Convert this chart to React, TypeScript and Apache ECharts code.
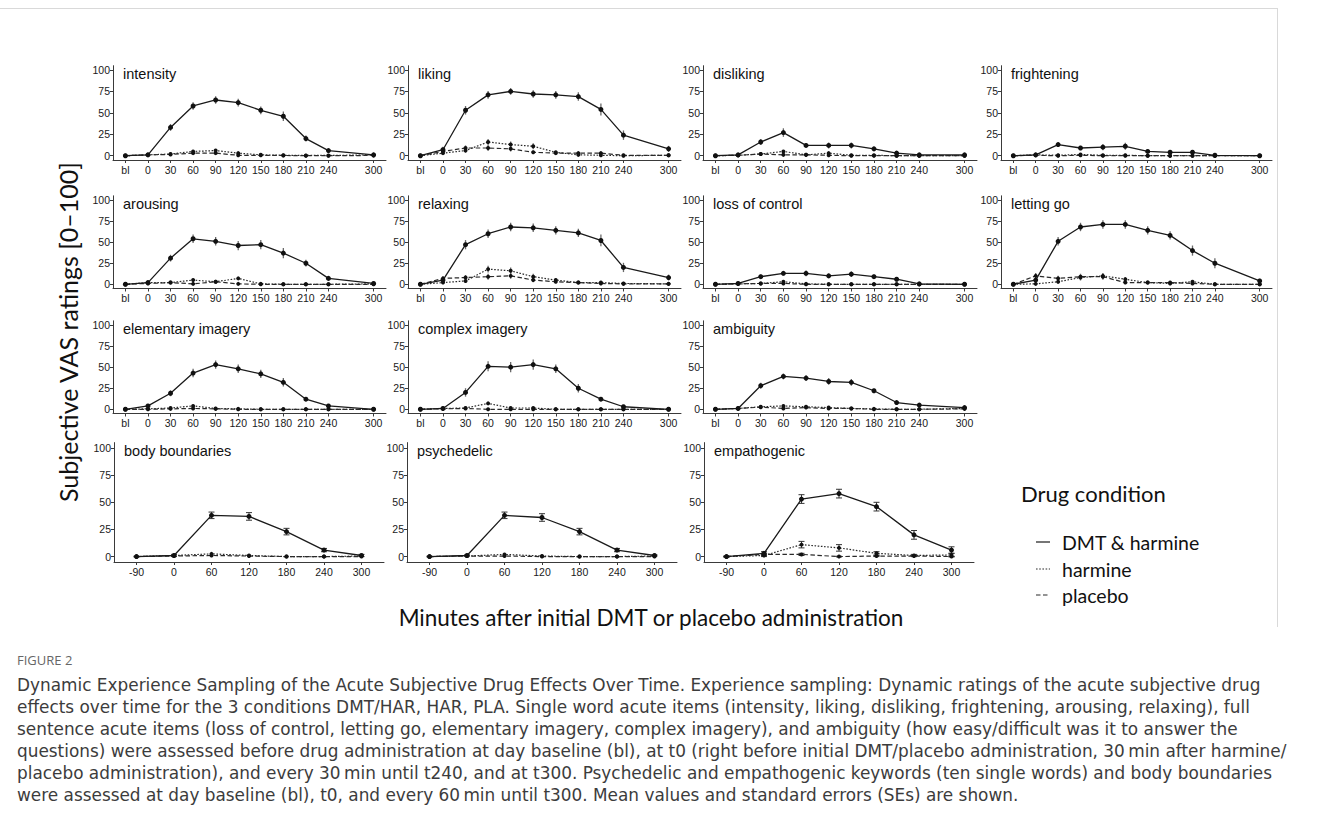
import React, { useEffect, useRef } from 'react';
import * as echarts from 'echarts';

// ---------- axis categories / tick labels ----------
const DENSE_TIMES = ['bl', '0', '30', '60', '90', '120', '150', '180', '210', '240', '300'];
const DENSE_POS = [-30, 0, 30, 60, 90, 120, 150, 180, 210, 240, 300];
const SPARSE_TIMES = ['-90', '0', '60', '120', '180', '240', '300'];
const SPARSE_POS = [-60, 0, 60, 120, 180, 240, 300];
const Y_TICKS = [0, 25, 50, 75, 100];

// ---------- data (mean, SE) ----------
const intensity = {
  dmt: [0, 1, 33, 58, 65, 62, 53, 46, 20, 6, 1],
  dmtSe: [0.4, 1.2, 4, 4.5, 4.5, 4.5, 4.5, 5.5, 3.5, 2, 1.2],
  har: [0, 1, 2, 5, 6, 3, 1, 0.5, 0.3, 0.3, 1],
  pla: [0, 1, 1.5, 3, 3, 0.5, 0.5, 0.3, 0, 0, 0.3],
};
const liking = {
  dmt: [0, 7, 53, 71, 75, 72, 71, 69, 54, 24, 8],
  dmtSe: [0.5, 3.5, 5, 4.5, 4, 4.5, 4.5, 5, 7, 5.5, 3.5],
  har: [0, 3, 6, 16, 13, 11, 4, 1, 0.5, 0, 0.5],
  harSe: [0.3, 1.5, 2.5, 3.5, 3.5, 3.5, 1.5, 1, 0.5, 0.3, 0.3],
  pla: [0, 5, 9, 9, 8, 4, 3, 3, 3, 0.5, 0.5],
  plaSe: [0.3, 2, 3, 3.5, 3, 2, 1.5, 1.5, 1.5, 0.3, 0.3],
};
const disliking = {
  dmt: [0, 1, 16, 27, 12, 12, 12, 8, 3, 1, 1],
  dmtSe: [0.4, 1, 3.5, 5, 2.5, 3.5, 3.5, 2.5, 1.5, 1, 0.6],
  har: [0, 0.5, 2, 5, 1, 3, 0.5, 0.5, 0, 0, 0],
  pla: [0, 0.5, 2, 1, 1, 0.5, 0, 0, 0, 0, 0],
};
const frightening = {
  dmt: [0, 1, 13, 9, 10, 11, 5, 4, 4, 0.5, 0],
  dmtSe: [0.3, 1, 2.5, 2.5, 3.5, 4, 1.5, 1.5, 2, 0.6, 0.2],
  har: [0, 1, 0.5, 1.5, 0.5, 0.5, 0, 0, 0, 0, 0],
  pla: [0, 0.5, 0, 0.5, 0, 0, 0, 0, 0, 0, 0],
};
const arousing = {
  dmt: [0, 2, 31, 54, 51, 46, 47, 37, 25, 7, 1],
  dmtSe: [0.5, 1.2, 4, 5, 5, 5.5, 5.5, 6, 4, 2, 1.2],
  har: [0, 2, 2, 5, 3, 7, 0.5, 0, 0, 0, 0.5],
  pla: [0, 1, 2, 0.5, 3, 0.5, 0, 0, 0, 0, 0],
};
const relaxing = {
  dmt: [0, 5, 47, 60, 68, 67, 64, 61, 52, 20, 8],
  dmtSe: [0.5, 2.5, 5.5, 5, 5, 5, 5, 5, 7, 5.5, 3.5],
  har: [0, 2, 4, 18, 16, 9, 5, 2, 2, 1, 0.5],
  harSe: [0.3, 1, 2, 4, 4, 3.5, 2, 1, 1, 0.5, 0.3],
  pla: [0, 7, 8, 9, 10, 5, 3, 2, 1, 0.5, 0.5],
  plaSe: [0.3, 2.5, 3, 3.5, 3.5, 2.5, 1.5, 1, 0.5, 0.3, 0.3],
};
const lossOfControl = {
  dmt: [0, 1, 9, 13, 13, 10, 12, 9, 6, 0.5, 0],
  dmtSe: [0.3, 0.6, 2.5, 2.5, 3.5, 2.5, 3.5, 2.5, 2.5, 0.6, 0.2],
  har: [0, 0.5, 1, 3, 0.5, 0, 0, 0, 0, 0, 0],
  pla: [0, 0.5, 1, 1, 0, 0, 0, 0, 0, 0, 0],
};
const lettingGo = {
  dmt: [0, 5, 51, 68, 71, 71, 64, 58, 40, 25, 4],
  dmtSe: [0.5, 2.5, 5, 5, 5, 5, 5, 5, 6, 6, 2.5],
  har: [0, 0.5, 3, 8, 10, 6, 2, 1, 3, 0, 0],
  harSe: [0.3, 0.3, 2, 3.5, 3.5, 2.5, 1, 1, 2, 0.3, 0.3],
  pla: [0, 10, 7, 9, 9, 2, 2, 2, 1, 0, 0],
  plaSe: [0.3, 3.5, 3, 3.5, 3.5, 1, 1, 1, 0.5, 0.3, 0.3],
};
const elementaryImagery = {
  dmt: [0, 4, 19, 43, 53, 48, 42, 32, 12, 4, 0],
  dmtSe: [0.4, 2, 3.5, 5, 5, 5, 5, 5, 2.5, 1.2, 0.4],
  har: [0, 0.5, 1.5, 4, 1, 0.5, 0, 0, 0, 0, 0],
  pla: [0, 0, 0.5, 1, 0.5, 0, 0, 0, 0, 0, 0],
};
const complexImagery = {
  dmt: [0, 1, 20, 51, 50, 53, 48, 25, 12, 3, 0],
  dmtSe: [0.4, 1.2, 5, 6, 6, 6, 5, 5, 2.5, 1.2, 0.4],
  har: [0, 1, 1.5, 7, 1.5, 1.5, 0, 0, 0, 0, 0],
  pla: [0, 0.5, 1, 0, 0, 0, 0, 0, 0, 0, 0],
};
const ambiguity = {
  dmt: [0, 1, 28, 39, 37, 33, 32, 22, 8, 5, 2],
  dmtSe: [0.5, 1.2, 3.5, 3.5, 3.5, 4, 4, 2.5, 1.2, 1.2, 1.2],
  har: [0, 1, 3, 4, 3, 2, 1, 0.5, 0, 0, 1],
  pla: [0, 1, 2.5, 1, 2, 1, 1, 0, 0, 0, 0.5],
};
const bodyBoundaries = {
  dmt: [0, 1, 38, 37, 23, 6, 1],
  dmtSe: [0.3, 1, 3, 3.5, 3, 1.5, 1],
  har: [0, 1, 2.5, 1, 0, 0, 0.5],
  pla: [0, 0.5, 1, 0.5, 0, 0, 0],
};
const psychedelic = {
  dmt: [0, 1, 38, 36, 23, 6, 1],
  dmtSe: [0.3, 0.5, 3, 3.5, 3, 1.5, 0.5],
  har: [0, 0.5, 2, 0.5, 0, 0, 0.5],
  pla: [0, 0.5, 0.5, 0, 0, 0, 0],
};
const empathogenic = {
  dmt: [0, 3, 53, 58, 46, 20, 6],
  dmtSe: [0.3, 1.5, 4, 4, 4, 4, 3],
  har: [0, 1, 11, 8, 3, 1, 1.5],
  harSe: [0.3, 1, 3, 3, 1.5, 1, 1.5],
  pla: [0, 2, 2, 0, 0.5, 0.5, 0],
  plaSe: [0.3, 1, 1, 0.3, 0.5, 0.5, 0.3],
};

const PANELS = [
  { title: 'intensity', d: intensity, row: 0, col: 0 },
  { title: 'liking', d: liking, row: 0, col: 1 },
  { title: 'disliking', d: disliking, row: 0, col: 2 },
  { title: 'frightening', d: frightening, row: 0, col: 3 },
  { title: 'arousing', d: arousing, row: 1, col: 0 },
  { title: 'relaxing', d: relaxing, row: 1, col: 1 },
  { title: 'loss of control', d: lossOfControl, row: 1, col: 2 },
  { title: 'letting go', d: lettingGo, row: 1, col: 3 },
  { title: 'elementary imagery', d: elementaryImagery, row: 2, col: 0 },
  { title: 'complex imagery', d: complexImagery, row: 2, col: 1 },
  { title: 'ambiguity', d: ambiguity, row: 2, col: 2 },
  { title: 'body boundaries', d: bodyBoundaries, row: 3, col: 0 },
  { title: 'psychedelic', d: psychedelic, row: 3, col: 1 },
  { title: 'empathogenic', d: empathogenic, row: 3, col: 2 },
];

const CAPTION = [
  'Dynamic Experience Sampling of the Acute Subjective Drug Effects Over Time. Experience sampling: Dynamic ratings of the acute subjective drug',
  'effects over time for the 3 conditions DMT/HAR, HAR, PLA. Single word acute items (intensity, liking, disliking, frightening, arousing, relaxing), full',
  'sentence acute items (loss of control, letting go, elementary imagery, complex imagery), and ambiguity (how easy/difficult was it to answer the',
  'questions) were assessed before drug administration at day baseline (bl), at t0 (right before initial DMT/placebo administration, 30\u2009min after harmine/',
  'placebo administration), and every 30\u2009min until t240, and at t300. Psychedelic and empathogenic keywords (ten single words) and body boundaries',
  'were assessed at day baseline (bl), t0, and every 60\u2009min until t300. Mean values and standard errors (SEs) are shown.',
];

// ---------- layout ----------
const ROW_TOP = [65.7, 195.8, 320.8, 442.6];
const ROW_H = [94.3, 92.7, 92.7, 119.4];
const COL_LEFT = [113, 408, 703, 1001];
const COL_W = [273, 273, 274, 271];
const COL_LEFT_B = [114, 407, 704];
const COL_W_B = 270;

const TICK_FONT = "'Liberation Sans', Arial, sans-serif";
const TITLE_FONT = "Lato, 'Open Sans', sans-serif";
const CAPTION_FONT = "'DejaVu Sans', 'Open Sans', sans-serif";
const AXIS_COLOR = '#3a3a3a';

const LINE_STYLES = {
  dmt: { color: '#1a1a1a', width: 1.3, type: 'solid' as any },
  har: { color: '#2a2a2a', width: 1.2, type: [1.6, 1.6] as any },
  pla: { color: '#2a2a2a', width: 1.2, type: [4.5, 2.5] as any },
};

function errorSeries(idx: number, pos: number[], mean: number[], se: number[], caps: boolean, color: string, lw: number) {
  return {
    type: 'custom',
    xAxisIndex: idx,
    yAxisIndex: idx,
    z: 1,
    silent: true,
    encode: { x: 0, y: 1 },
    data: mean.map((v, k) => [pos[k], v, se[k]]),
    renderItem: (params: any, api: any) => {
      const x = api.value(0);
      const y = api.value(1);
      const s = api.value(2);
      const a = api.coord([x, y + s]);
      const b = api.coord([x, y - s]);
      const children: any[] = [
        { type: 'line', shape: { x1: a[0], y1: a[1], x2: b[0], y2: b[1] }, style: { stroke: color, lineWidth: lw } },
      ];
      if (caps) {
        children.push({ type: 'line', shape: { x1: a[0] - 3, y1: a[1], x2: a[0] + 3, y2: a[1] }, style: { stroke: color, lineWidth: 1 } });
        children.push({ type: 'line', shape: { x1: b[0] - 3, y1: b[1], x2: b[0] + 3, y2: b[1] }, style: { stroke: color, lineWidth: 1 } });
      }
      return { type: 'group', children };
    },
  };
}

function buildOption() {
  const grid: any[] = [];
  const xAxis: any[] = [];
  const yAxis: any[] = [];
  const series: any[] = [];
  const graphic: any[] = [];

  PANELS.forEach((p, i) => {
    const sparse = p.row === 3;
    const left = sparse ? COL_LEFT_B[p.col] : COL_LEFT[p.col];
    const width = sparse ? COL_W_B : COL_W[p.col];
    const top = ROW_TOP[p.row];
    const height = ROW_H[p.row];
    const pos = sparse ? SPARSE_POS : DENSE_POS;
    const labels = sparse ? SPARSE_TIMES : DENSE_TIMES;

    grid.push({ left, top, width, height, containLabel: false, outerBoundsMode: 'none' });
    xAxis.push({
      type: 'value',
      gridIndex: i,
      min: sparse ? -96 : -46.5,
      max: sparse ? 336 : 316.5,
      splitLine: { show: false },
      axisLine: { show: true, onZero: false, lineStyle: { color: AXIS_COLOR, width: 1 } },
      axisTick: { show: true, length: 3, customValues: pos, lineStyle: { color: AXIS_COLOR } },
      axisLabel: {
        customValues: pos,
        formatter: (v: number) => {
          const k = pos.indexOf(v);
          return k >= 0 ? labels[k] : '';
        },
        fontSize: 10.5,
        color: '#1a1a1a',
        margin: 4,
        fontFamily: TICK_FONT,
      },
    });
    yAxis.push({
      type: 'value',
      gridIndex: i,
      min: -5,
      max: 105,
      splitLine: { show: false },
      axisLine: { show: true, onZero: false, lineStyle: { color: AXIS_COLOR, width: 1 } },
      axisTick: { show: true, length: 3, customValues: Y_TICKS, lineStyle: { color: AXIS_COLOR } },
      axisLabel: {
        customValues: Y_TICKS,
        fontSize: 10.5,
        color: '#1a1a1a',
        margin: 3,
        fontFamily: TICK_FONT,
      },
    });

    const d: any = p.d;
    const caps = sparse;
    const ebColor = sparse ? '#333' : '#6a6a6a';
    const ebLw = sparse ? 1 : 1.3;
    series.push(errorSeries(i, pos, d.dmt, d.dmtSe, caps, ebColor, ebLw));
    if (d.harSe) series.push(errorSeries(i, pos, d.har, d.harSe, caps, ebColor, ebLw));
    if (d.plaSe) series.push(errorSeries(i, pos, d.pla, d.plaSe, caps, ebColor, ebLw));

    (['pla', 'har', 'dmt'] as const).forEach((key) => {
      series.push({
        type: 'line',
        name: key,
        xAxisIndex: i,
        yAxisIndex: i,
        z: key === 'dmt' ? 4 : 3,
        data: d[key].map((v: number, k: number) => [pos[k], v]),
        symbol: 'circle',
        symbolSize: key === 'dmt' ? 5 : 4,
        showSymbol: true,
        itemStyle: { color: '#111' },
        lineStyle: LINE_STYLES[key],
        silent: true,
      });
    });

    // panel title
    graphic.push({
      type: 'text',
      left: left + 10,
      top: top + 1,
      style: { text: p.title, fontSize: 14.5, fontFamily: TICK_FONT, fill: '#111' },
    });
  });

  // border lines
  graphic.push({ type: 'line', shape: { x1: 0, y1: 8.5, x2: 1277, y2: 8.5 }, style: { stroke: '#d9d9d9', lineWidth: 1 } });
  graphic.push({ type: 'line', shape: { x1: 1277.5, y1: 8, x2: 1277.5, y2: 627 }, style: { stroke: '#d9d9d9', lineWidth: 1 } });

  // axis titles
  graphic.push({
    type: 'text',
    x: 68,
    y: 332,
    rotation: Math.PI / 2,
    style: { text: 'Subjective VAS ratings [0\u2013100]', fontSize: 25, fontFamily: TITLE_FONT, fill: '#111', textAlign: 'center', textVerticalAlign: 'middle' },
  });
  graphic.push({
    type: 'text',
    x: 651,
    y: 617,
    style: { text: 'Minutes after initial DMT or placebo administration', fontSize: 22.5, fontFamily: TITLE_FONT, fill: '#111', textAlign: 'center', textVerticalAlign: 'middle' },
  });

  // legend
  graphic.push({
    type: 'text',
    x: 1021,
    y: 493,
    style: { text: 'Drug condition', fontSize: 22, fontFamily: TITLE_FONT, fill: '#111', textAlign: 'left', textVerticalAlign: 'middle' },
  });
  const legendItems = [
    { label: 'DMT & harmine', y: 542, key: 'dmt' as const },
    { label: 'harmine', y: 569, key: 'har' as const },
    { label: 'placebo', y: 595, key: 'pla' as const },
  ];
  legendItems.forEach((it) => {
    const ls = LINE_STYLES[it.key];
    graphic.push({
      type: 'line',
      shape: { x1: 1036, y1: it.y, x2: 1050, y2: it.y },
      style: { stroke: ls.color, lineWidth: 1.2, lineDash: it.key === 'dmt' ? null : ls.type },
    });
    graphic.push({
      type: 'text',
      x: 1062,
      y: it.y,
      style: { text: it.label, fontSize: 19.5, fontFamily: TITLE_FONT, fill: '#111', textAlign: 'left', textVerticalAlign: 'middle' },
    });
  });

  // caption
  graphic.push({
    type: 'text',
    x: 17,
    y: 660,
    style: { text: 'FIGURE 2', fontSize: 13, fontFamily: "'Open Sans', sans-serif", fill: '#666', textAlign: 'left', textVerticalAlign: 'middle' },
  });
  CAPTION.forEach((line, k) => {
    graphic.push({
      type: 'text',
      x: 17,
      y: 685 + k * 22,
      style: { text: line, fontSize: 16.9, fontFamily: CAPTION_FONT, fill: '#3c3c3c', textAlign: 'left', textVerticalAlign: 'middle' },
    });
  });

  return {
    animation: false,
    backgroundColor: '#ffffff',
    grid,
    xAxis,
    yAxis,
    series,
    graphic,
  };
}

export default function App() {
  const ref = useRef<HTMLDivElement>(null);
  useEffect(() => {
    if (!ref.current) return;
    const chart = echarts.init(ref.current, undefined, { renderer: 'svg' });
    chart.setOption(buildOption() as any);
    return () => chart.dispose();
  }, []);
  return <div ref={ref} style={{ position: 'absolute', left: 0, top: 0, width: 1329, height: 832 }} />;
}
